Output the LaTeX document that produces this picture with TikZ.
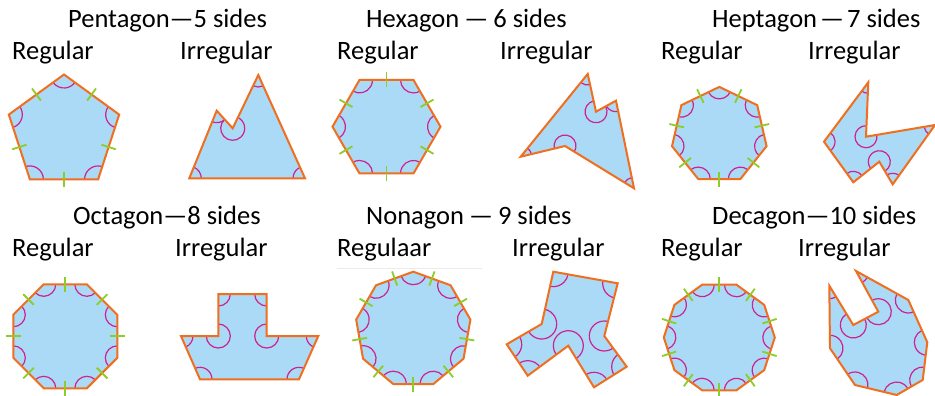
\documentclass[tikz,border=0pt]{standalone}
\usepackage{fontspec}
\setmainfont{Carlito}
\usetikzlibrary{calc,angles}
\definecolor{fillc}{RGB}{170,218,245}
\definecolor{edgec}{RGB}{240,110,30}
\definecolor{arcc}{RGB}{205,35,145}
\definecolor{tickc}{RGB}{140,205,40}
\tikzset{
  lbl/.style={anchor=base west, inner sep=0pt, font=\fontsize{26.5}{30}\selectfont},
  edge/.style={draw=edgec, line width=2pt, line join=miter},
  tickmark/.style={draw=tickc, line width=1.8pt},
}
\newcommand\mkpts[2]{\foreach \pt [count=\i] in {#2} {\path \pt coordinate (#1\i); \xdef\npts{\i}}}
\newcommand\mkreg[6]{\foreach \i in {1,...,#2} {\coordinate (#1\i) at ({#3+#5*cos(#6+360*(\i-1)/#2)},{#4-#5*sin(#6+360*(\i-1)/#2)});}\xdef\npts{#2}}
\newcommand\shapefill[1]{\fill[fillc] (#11) \foreach \i in {2,...,\npts}{-- (#1\i)} -- cycle;}
\newcommand\shapearcs[2]{\foreach \i in {1,...,\npts}{%
   \pgfmathtruncatemacro\prv{mod(\i+\npts-2,\npts)+1}%
   \pgfmathtruncatemacro\nxt{mod(\i,\npts)+1}%
   \pic[draw=arcc, line width=1.2pt, angle radius=#2] {angle=#1\nxt--#1\i--#1\prv};}}
\newcommand\shapeedge[1]{\draw[edge] (#11) \foreach \i in {2,...,\npts}{-- (#1\i)} -- cycle;}
\newcommand\shapeticks[1]{\foreach \i in {1,...,\npts}{%
   \pgfmathtruncatemacro\nxt{mod(\i,\npts)+1}%
   \draw[tickmark] ($(#1\i)!0.5!(#1\nxt)!7.5pt!90:(#1\nxt)$) -- ($(#1\i)!0.5!(#1\nxt)!7.5pt!-90:(#1\nxt)$);}}
\newcommand\fullshape[2]{\shapefill{#1}\shapearcs{#1}{#2}\shapeedge{#1}}
\begin{document}
\begin{tikzpicture}[x=1pt,y=-1pt]
\useasboundingbox (0,0) rectangle (935,396);
\fill[white] (0,0) rectangle (935,396);
\draw[black!8, line width=0.8pt] (337,268.5) -- (482,268.5);

% titles and labels
\node[lbl] (t1) at (68,28) {Pentagon—5 sides};
\node[lbl] (r1) at (12,60) {Regular};
\node[lbl] (i1) at (180,60) {Irregular};
\node[lbl] (t2) at (366,28) {Hexagon\hspace{5pt}—\hspace{5pt}6 sides};
\node[lbl] (r2) at (337,60) {Regular};
\node[lbl] (i2) at (500,60) {Irregular};
\node[lbl] (t3) at (712,28) {Heptagon\hspace{3pt}—\hspace{3pt}7 sides};
\node[lbl] (r3) at (661,60) {Regular};
\node[lbl] (i3) at (808,60) {Irregular};
\node[lbl] (t4) at (73,224) {Octagon—8 sides};
\node[lbl] (r4) at (12,256) {Regular};
\node[lbl] (i4) at (175,256) {Irregular};
\node[lbl] (t5) at (366,224) {Nonagon\hspace{5pt}—\hspace{5pt}9 sides};
\node[lbl] (r5) at (337,256) {Regulaar};
\node[lbl] (i5) at (512,256) {Irregular};
\node[lbl] (t6) at (712,224) {Decagon—10 sides};
\node[lbl] (r6) at (661,256) {Regular};
\node[lbl] (i6) at (798,256) {Irregular};

% Pentagon
\mkreg{PA}{5}{64}{132.5}{58}{90}
\fullshape{PA}{13.5pt}\shapeticks{PA}
\mkpts{PB}{(189.3,178.3),(305,178.3),(258.3,75),(232.7,128.3),(216.7,110.7)}
\fullshape{PB}{12pt}

% Hexagon
\mkreg{HA}{6}{386.5}{126.7}{54}{0}
\fullshape{HA}{13pt}\shapeticks{HA}
\mkpts{HB}{(520.7,156.7),(565,146),(634,188.3),(616,100.7),(596,111.7),(587.7,74)}
\fullshape{HB}{11pt}

% Heptagon
\mkreg{GA}{7}{719.3}{135.4}{48.5}{90}
\fullshape{GA}{12pt}\shapeticks{GA}
\mkpts{GB}{(868.3,82.3),(824,141.7),(853.3,182.3),(879.3,161.7),(892.7,184.3),(935,125),(866,136.7)}
\fullshape{GB}{11pt}

% Octagon
\mkreg{OA}{8}{65.3}{336.3}{56.3}{22.5}
\fullshape{OA}{12pt}\shapeticks{OA}
\mkpts{OB}{(218.3,294),(218.3,336),(181,336),(200,379.3),(299,379.3),(318.3,336),(266.7,336),(266.7,294)}
\fullshape{OB}{12pt}

% Nonagon
\mkreg{NA}{9}{413.3}{329.7}{58}{90}
\fullshape{NA}{13pt}\shapeticks{NA}
\mkpts{NB}{(553.3,271.7),(541.7,324),(506.7,344.3),(527.7,375.7),(568.3,345.7),(594,387.3),(626.7,366.7),(604.3,336),(617.7,283.3)}
\fullshape{NB}{15pt}

% Decagon
\mkreg{DA}{10}{719.3}{337.5}{55.5}{0}
\fullshape{DA}{12pt}\shapeticks{DA}
\mkpts{DB}{(856,271),(878.3,311.7),(853.3,325),(829.3,285.7),(830,348.3),(855,385),(896.7,395),(922.7,380),(927.3,342.3),(908.3,300)}
\fullshape{DB}{13pt}
\end{tikzpicture}
\end{document}
